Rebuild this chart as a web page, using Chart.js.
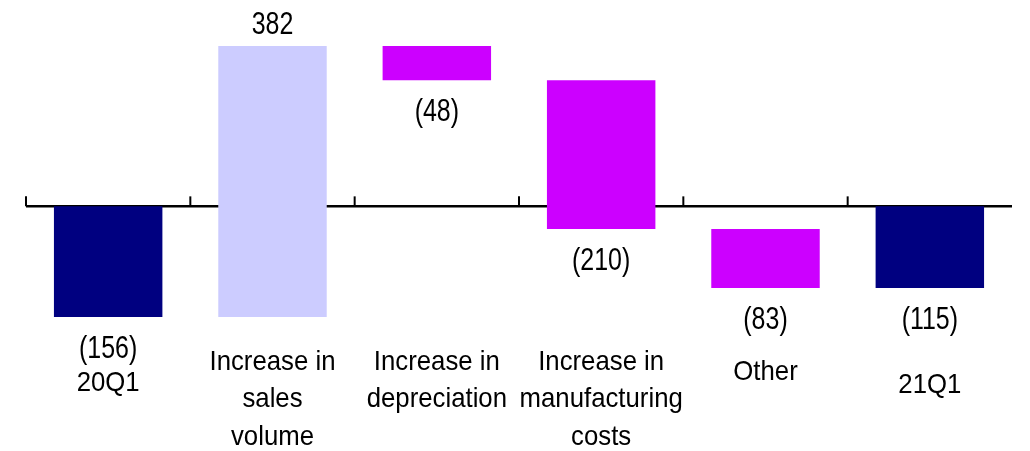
<!DOCTYPE html>
<html>
<head>
<meta charset="utf-8">
<script src="https://cdn.jsdelivr.net/npm/chart.js@4.4.0/dist/chart.umd.min.js"></script>
<style>
  body { margin: 0; background: #fff; }
  canvas { display: block; }
</style>
</head>
<body>
<canvas id="bridge" width="1030" height="451"></canvas>
<script>
// waterfall: 20Q1 -> 21Q1
const categories = [
    ['20Q1'],
    ['Increase in', 'sales', 'volume'],
    ['Increase in', 'depreciation'],
    ['Increase in', 'manufacturing', 'costs'],
    ['Other'],
    ['21Q1']
];
const values = [-156, 382, -48, -210, -83, -115];
const kinds = ['total', 'step', 'step', 'step', 'step', 'total'];

// vertical centre of the first label line, per category (layout only)
const labelLineY = [383, 362, 362, 362, 372, 385];

const NAVY = '#000080';
const UP = '#CCCCFF';
const DOWN = '#CC00FF';

// floating ranges
let running = 0;
const ranges = values.map((v, i) => {
    if (kinds[i] === 'total') {
        running = v;
        return [0, v];
    }
    const start = running;
    running += v;
    return [start, running];
});
const colors = values.map((v, i) => kinds[i] === 'total' ? NAVY : (v >= 0 ? UP : DOWN));

function fmt(v) {
    return v < 0 ? '(' + Math.abs(v) + ')' : String(v);
}

// text squeezed a little horizontally, like the original
function narrowText(ctx, txt, x, y, size, sx) {
    ctx.save();
    ctx.translate(x, y);
    ctx.scale(sx, 1);
    ctx.font = size + 'px "Liberation Sans", Arial, sans-serif';
    ctx.fillText(txt, 0, 0);
    ctx.restore();
}

const axisLine = {
    id: 'axisLine',
    beforeDatasetsDraw(chart) {
        const { ctx, chartArea, scales } = chart;
        const y0 = scales.y.getPixelForValue(0);
        const x = scales.x;
        ctx.save();
        ctx.strokeStyle = '#000';
        ctx.lineWidth = 2.5;
        ctx.beginPath();
        ctx.moveTo(chartArea.left, y0);
        ctx.lineTo(chartArea.right, y0);
        ctx.stroke();
        ctx.lineWidth = 2;
        for (let i = 0; i < categories.length; i++) {
            const bx = i === 0 ? chartArea.left
                : (x.getPixelForValue(i - 1) + x.getPixelForValue(i)) / 2;
            ctx.beginPath();
            ctx.moveTo(bx, y0);
            ctx.lineTo(bx, y0 - 10);
            ctx.stroke();
        }
        ctx.restore();
    }
};

const barLabels = {
    id: 'barLabels',
    afterDatasetsDraw(chart) {
        const { ctx, scales } = chart;
        const meta = chart.getDatasetMeta(0);
        ctx.save();
        ctx.fillStyle = '#000';
        ctx.textAlign = 'center';
        ctx.textBaseline = 'middle';
        meta.data.forEach((bar, i) => {
            const top = Math.min(bar.y, bar.base);
            const bottom = Math.max(bar.y, bar.base);
            const ty = values[i] >= 0 ? top - 21 : bottom + 32;
            narrowText(ctx, fmt(values[i]), bar.x, ty, 32, 0.78);
        });
        // category labels
        categories.forEach((lines, i) => {
            const cx = scales.x.getPixelForValue(i);
            lines.forEach((t, k) => {
                narrowText(ctx, t, cx, labelLineY[i] + k * 37.5, 28, 0.92);
            });
        });
        ctx.restore();
    }
};

new Chart(document.getElementById('bridge').getContext('2d'), {
    type: 'bar',
    data: {
        labels: categories.map(c => c.join(' ')),
        datasets: [{
            data: ranges,
            backgroundColor: colors,
            borderWidth: 0,
            borderSkipped: false,
            barPercentage: 0.66,
            categoryPercentage: 1.0
        }]
    },
    options: {
        responsive: false,
        animation: false,
        layout: { padding: { left: 26, right: 18, top: 0, bottom: 0 } },
        plugins: {
            legend: { display: false },
            tooltip: { enabled: false }
        },
        scales: {
            x: { display: false },
            y: { display: false, min: -345, max: 291 }
        }
    },
    plugins: [axisLine, barLabels]
});
</script>
</body>
</html>
